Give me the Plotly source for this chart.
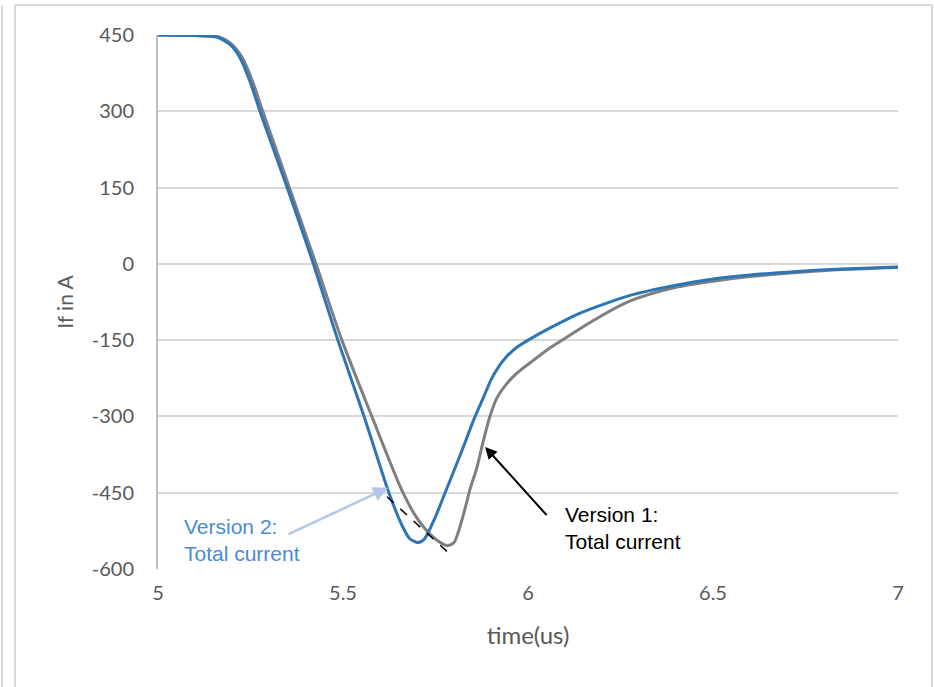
import plotly.graph_objects as go

# Version 2 (blue) total current
t_v2 = [5.0, 5.10, 5.159, 5.195, 5.222, 5.249, 5.276, 5.311, 5.349, 5.384, 5.419,
        5.486, 5.557, 5.624, 5.66, 5.68, 5.703, 5.72, 5.75, 5.776, 5.82, 5.857,
        5.88, 5.90, 5.92, 5.94, 5.97, 6.005, 6.06, 6.141, 6.276, 6.4, 6.5, 6.6,
        6.727, 6.85, 7.0]
i_v2 = [450, 449, 446, 431, 405, 358, 299, 228, 150, 77, 2,
        -150, -300, -450, -515, -540, -548, -541, -497, -450, -370, -300,
        -262, -228, -203, -184, -164, -148, -126, -97, -62, -42, -30, -22,
        -15, -10, -6]

# Version 1 (gray) total current
t_v1 = [5.0, 5.10, 5.165, 5.20, 5.228, 5.256, 5.283, 5.318, 5.355, 5.39, 5.427,
        5.497, 5.578, 5.662, 5.70, 5.74, 5.77, 5.784, 5.80, 5.824, 5.843, 5.862,
        5.878, 5.895, 5.915, 5.94, 5.97, 6.005, 6.06, 6.114, 6.18, 6.276,
        6.4, 6.5, 6.6, 6.727, 6.85, 7.0]
i_v1 = [450, 449, 446, 431, 405, 358, 300, 228, 150, 77, 0,
        -150, -300, -450, -500, -535, -551, -554, -548, -497, -444, -400,
        -352, -305, -265, -238, -215, -195, -165, -140, -110, -73,
        -46, -34, -25, -17, -11, -7]

x_ticks = [5, 5.5, 6, 6.5, 7]
y_ticks = [450, 300, 150, 0, -150, -300, -450, -600]

# annotation anchors (data coords)
v1_arrow_head = (5.884, -360)
v1_arrow_tail = (6.054, -497)
v1_text_pos = (6.095, -519)
v2_arrow_head = (5.622, -440)
v2_arrow_tail = (5.349, -533)
v2_text_pos = (5.065, -543)
tangent_line = [(5.619, -458), (5.797, -576)]

BLUE = "#2E75B6"
GRAY = "#7F7F7F"
TICK_FONT = dict(family="Lato", size=20, color="#595959")

fig = go.Figure()
fig.add_trace(go.Scatter(x=t_v1, y=i_v1, mode="lines", name="Version 1",
                         line=dict(color=GRAY, width=3, shape="spline", smoothing=0.8)))
fig.add_trace(go.Scatter(x=t_v2, y=i_v2, mode="lines", name="Version 2",
                         line=dict(color=BLUE, width=3, shape="spline", smoothing=0.7)))

fig.add_shape(type="line", xref="x", yref="y",
              x0=tangent_line[0][0], y0=tangent_line[0][1],
              x1=tangent_line[1][0], y1=tangent_line[1][1],
              line=dict(color="black", width=1.5, dash="dash"))

fig.add_annotation(x=v1_arrow_head[0], y=v1_arrow_head[1], ax=v1_arrow_tail[0], ay=v1_arrow_tail[1],
                   xref="x", yref="y", axref="x", ayref="y", text="", showarrow=True,
                   arrowhead=2, arrowsize=1.2, arrowwidth=2, arrowcolor="black")
fig.add_annotation(x=v1_text_pos[0], y=v1_text_pos[1], xref="x", yref="y",
                   text="Version 1:<br>Total current", showarrow=False, xanchor="left", yanchor="middle",
                   align="left", font=dict(family="Liberation Sans", size=21, color="black"))
fig.add_annotation(x=v2_arrow_head[0], y=v2_arrow_head[1], ax=v2_arrow_tail[0], ay=v2_arrow_tail[1],
                   xref="x", yref="y", axref="x", ayref="y", text="", showarrow=True,
                   arrowhead=2, arrowsize=1.2, arrowwidth=2.5, arrowcolor="#B4C7E7")
fig.add_annotation(x=v2_text_pos[0], y=v2_text_pos[1], xref="x", yref="y",
                   text="Version 2:<br>Total current", showarrow=False, xanchor="left", yanchor="middle",
                   align="left", font=dict(family="Liberation Sans", size=21, color="#4A8AD4"))

# outer frame lines
frame = dict(color="#D9D9D9", width=2)
fig.add_shape(type="line", xref="paper", yref="paper", x0=-0.1932, x1=1.046, y0=1.0562, y1=1.0562, line=frame)
fig.add_shape(type="line", xref="paper", yref="paper", x0=-0.1932, x1=-0.1932, y0=-0.222, y1=1.0562, line=frame)
fig.add_shape(type="line", xref="paper", yref="paper", x0=1.046, x1=1.046, y0=-0.222, y1=1.0562, line=frame)
fig.add_shape(type="line", xref="paper", yref="paper", x0=-0.2108, x1=-0.2108, y0=-0.222, y1=1.0562, line=frame)

fig.update_layout(
    width=934, height=687,
    margin=dict(l=158, r=36, t=35, b=118),
    paper_bgcolor="white", plot_bgcolor="white",
    showlegend=False,
    xaxis=dict(range=[5, 7], tickvals=x_ticks, ticktext=[str(v) for v in x_ticks],
               showgrid=False, zeroline=False, showline=False, ticks="",
               tickfont=TICK_FONT, ticklabelstandoff=10,
               title=dict(text="time(us)", font=dict(family="Lato", size=24, color="#595959"), standoff=24)),
    yaxis=dict(range=[-600, 450], tickvals=y_ticks, ticktext=[str(v) for v in y_ticks],
               showgrid=True, gridcolor="#D9D9D9", gridwidth=2, zeroline=False,
               showline=True, linecolor="#BFBFBF", linewidth=2, ticks="",
               tickfont=TICK_FONT, ticklabelstandoff=18,
               title=dict(text="If in A", font=dict(family="Lato", size=21, color="#595959"), standoff=12)),
)

fig.write_html("out.html")
